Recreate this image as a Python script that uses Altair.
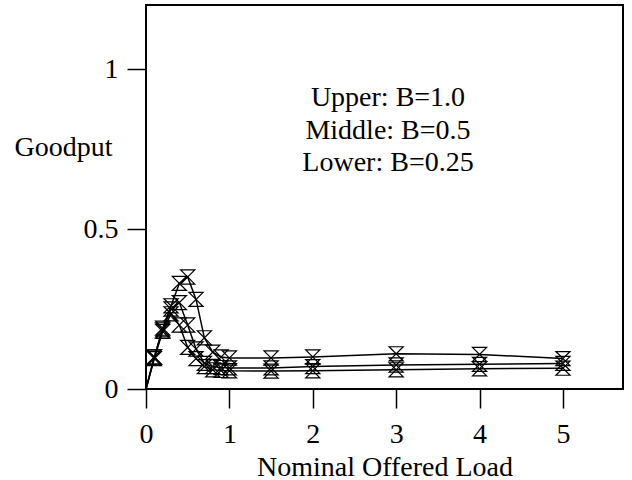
import altair as alt
import pandas as pd

load = [0, 0.1, 0.2, 0.3, 0.4, 0.5, 0.6, 0.7, 0.8, 0.9, 1.0, 1.5, 2, 3, 4, 5]
upper = [0, 0.10, 0.19, 0.26, 0.33, 0.35, 0.28, 0.16, 0.115, 0.10, 0.097, 0.097, 0.10, 0.11, 0.108, 0.095]
middle = [0, 0.10, 0.185, 0.25, 0.27, 0.20, 0.125, 0.08, 0.07, 0.067, 0.066, 0.066, 0.070, 0.075, 0.077, 0.08]
lower = [0, 0.095, 0.18, 0.235, 0.20, 0.13, 0.095, 0.07, 0.06, 0.058, 0.057, 0.056, 0.057, 0.06, 0.063, 0.065]
series_names = ["Upper", "Middle", "Lower"]
notes = ["Upper: B=1.0", "Middle: B=0.5", "Lower: B=0.25"]

rows = []
for name, vals in zip(series_names, [upper, middle, lower]):
    for x, y in zip(load, vals):
        rows.append({"load": x, "goodput": y, "series": name})
df = pd.DataFrame(rows)

FONT = "Liberation Serif"
HOURGLASS = "M-1,-1L1,-1L-1,1L1,1Z"

x_enc = alt.X("load:Q",
              scale=alt.Scale(domain=[0, 5.72], nice=False, zero=False),
              axis=alt.Axis(values=[0, 1, 2, 3, 4, 5], format="d",
                            title="Nominal Offered Load", grid=False, domain=False,
                            tickSize=19, tickWidth=1.5, tickColor="black",
                            labelFontSize=28, labelFont=FONT, labelColor="black",
                            labelFlush=False, labelPadding=12,
                            titleFontSize=28, titleFont=FONT,
                            titleFontWeight="normal", titleColor="black",
                            titlePadding=5))
y_enc = alt.Y("goodput:Q",
              scale=alt.Scale(domain=[0, 1.2], nice=False),
              axis=alt.Axis(values=[0, 0.5, 1], labelExpr="datum.value == 0 ? '0' : datum.value == 1 ? '1' : '0.5'",
                            title="Goodput", grid=False, domain=False,
                            tickSize=19, tickWidth=1.5, tickColor="black",
                            labelFontSize=28, labelFont=FONT, labelColor="black",
                            labelFlush=False, labelPadding=9,
                            titleFontSize=28, titleFont=FONT,
                            titleFontWeight="normal", titleColor="black",
                            titleAngle=0, titleAlign="center", titleBaseline="middle",
                            titleX=-83, titleY=142))

base = alt.Chart(df)
lines = base.mark_line(color="black", strokeWidth=1.5).encode(
    x=x_enc, y=y_enc, detail="series:N", order="load:Q")
points = base.transform_filter("datum.load > 0").mark_point(
    shape=HOURGLASS, filled=False, color="black",
    strokeWidth=1.2, size=200, opacity=1).encode(
    x="load:Q", y="goodput:Q", detail="series:N")
text = alt.Chart(pd.DataFrame({"k": [0]})).mark_text(
    text=notes, font=FONT, fontSize=28, lineHeight=32.5, align="center",
    baseline="alphabetic", color="black").encode(
    x=alt.value(242), y=alt.value(101))

chart = alt.layer(lines, points, text).properties(
    width=477, height=384,
    autosize=alt.AutoSizeParams(type="none"),
    padding={"left": 146, "top": 5, "right": 9, "bottom": 91},
).configure(background="white").configure_view(stroke="black", strokeWidth=2)

chart.save("out.html", embed_options={"renderer": "svg", "actions": False})
